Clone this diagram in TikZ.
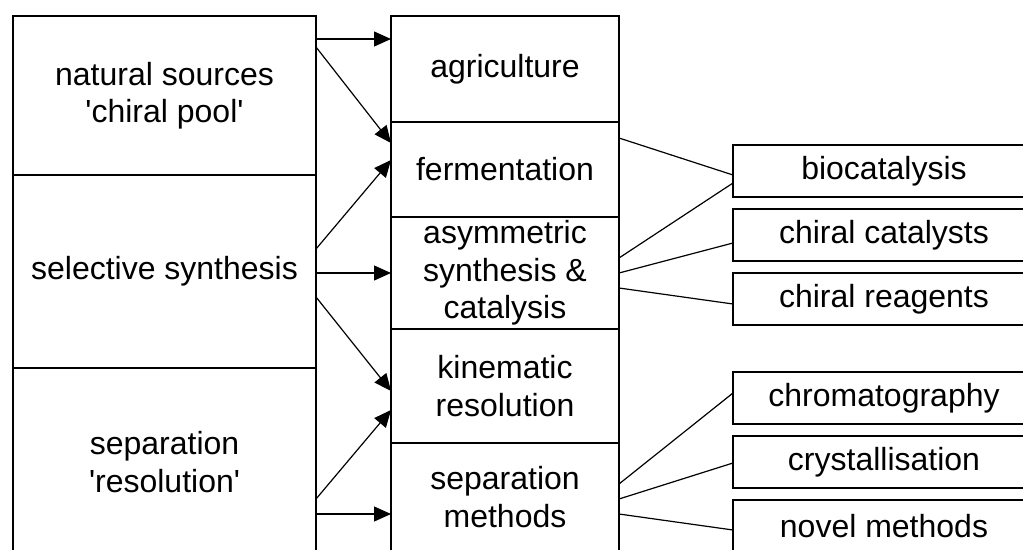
\documentclass[tikz,border=0pt]{standalone}
\usepackage{fontspec}
\setmainfont{Liberation Sans}
\usetikzlibrary{positioning}
\usetikzlibrary{arrows.meta}

\begin{document}
\begin{tikzpicture}[
  x=1pt, y=-1pt,
  box/.style={draw, line width=1.2pt, align=center, inner sep=0pt, outer sep=0pt, font=\fontsize{32}{37.5}\selectfont},
  source/.style={box, minimum width=303pt},
  route/.style={box, minimum width=228pt},
  method/.style={box, minimum width=302pt, minimum height=52pt},
  feed/.style={line width=1.2pt, -{Triangle[length=17pt, width=15pt]}},
  link/.style={line width=1.2pt}
]
\useasboundingbox (0,0) rectangle (1023,549);

% Sources
\node[source, minimum height=159pt] (natsrc) at (164.5,95.5) {natural sources\\\textquotesingle chiral pool\textquotesingle};
\node[source, minimum height=193pt, below=0pt of natsrc] (selsyn) {selective synthesis};
\node[source, minimum height=188pt, below=0pt of selsyn] (seprac) {separation\\\textquotesingle resolution\textquotesingle};

% Routes
\node[route, minimum height=106pt] (agri) at (505,69) {agriculture};
\node[route, minimum height=95pt, below=0pt of agri] (ferm) {fermentation};
\node[route, minimum height=112pt, below=0pt of ferm] (asym) {asymmetric\\synthesis \&\\catalysis};
\node[route, minimum height=114pt, below=0pt of asym] (kine) {kinematic\\resolution};
\node[route, minimum height=108pt, below=0pt of kine] (sepm) {separation\\methods};

% Methods
\node[method] (bio) at (884,171) {biocatalysis};
\node[method, below=12pt of bio] (chcat) {chiral catalysts};
\node[method, below=12pt of chcat] (chrea) {chiral reagents};
\node[method] (chrom) at (884,398) {chromatography};
\node[method, below=12pt of chrom] (cryst) {crystallisation};
\node[method, below=12pt of cryst] (novel) {novel methods};

% Sources to routes
\draw[feed] ([yshift=-23pt]natsrc.north east) -- ([yshift=-23pt]agri.north west);
\draw[feed] ([yshift=-31pt]natsrc.north east) -- ([yshift=-21pt]ferm.north west);
\draw[feed] ([yshift=-74pt]selsyn.north east) -- ([yshift=-38pt]ferm.north west);
\draw[feed] ([yshift=-98pt]selsyn.north east) -- (asym.west);
\draw[feed] ([yshift=-122pt]selsyn.north east) -- ([yshift=-62pt]kine.north west);
\draw[feed] ([yshift=-131pt]seprac.north east) -- ([yshift=-81pt]kine.north west);
\draw[feed] ([yshift=-146pt]seprac.north east) -- ([yshift=-71pt]sepm.north west);

% Routes to methods
\draw[link] ([yshift=-16pt]ferm.north east) -- ([yshift=-30pt]bio.north west);
\draw[link] ([yshift=-41pt]asym.north east) -- ([yshift=-38pt]bio.north west);
\draw[link] (asym.east) -- ([yshift=-34pt]chcat.north west);
\draw[link] ([yshift=-71pt]asym.north east) -- ([yshift=-31pt]chrea.north west);
\draw[link] ([yshift=-41pt]sepm.north east) -- ([yshift=-21pt]chrom.north west);
\draw[link] ([yshift=-56pt]sepm.north east) -- ([yshift=-27pt]cryst.north west);
\draw[link] ([yshift=-71pt]sepm.north east) -- ([yshift=-30pt]novel.north west);
\end{tikzpicture}
\end{document}
